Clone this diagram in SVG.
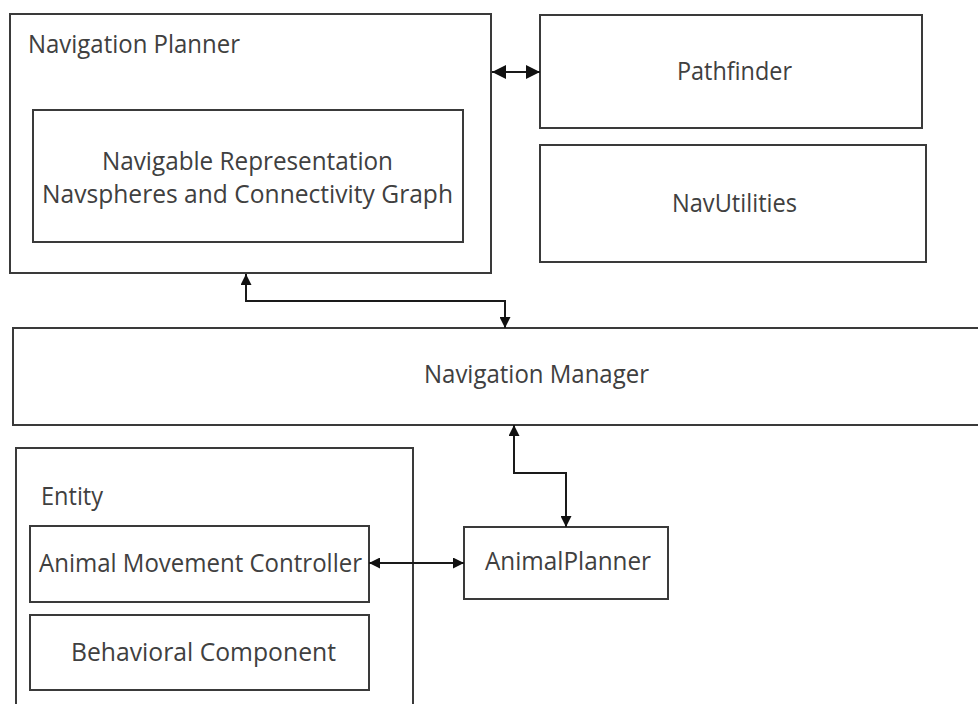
<svg xmlns="http://www.w3.org/2000/svg" width="978" height="704" viewBox="0 0 978 704">
  <style>
    .box { fill: #ffffff; stroke: #3a3a3a; stroke-width: 2; }
    .lbl { font-family: "Open Sans", "Noto Sans", "Liberation Sans", sans-serif; font-size: 25px; fill: #404040; }
    .link { fill: none; stroke: #1a1a1a; stroke-width: 2; marker-start: url(#head); marker-end: url(#head); }
    .link.bold { marker-start: url(#head-lg); marker-end: url(#head-lg); }
  </style>
  <defs>
    <marker id="head" viewBox="0 0 10 10" refX="10" refY="5" markerWidth="12" markerHeight="11" markerUnits="userSpaceOnUse" orient="auto-start-reverse">
      <path d="M0,0 L10,5 L0,10 z" fill="#111111"/>
    </marker>
    <marker id="head-lg" viewBox="0 0 10 10" refX="10" refY="5" markerWidth="14" markerHeight="14" markerUnits="userSpaceOnUse" orient="auto-start-reverse">
      <path d="M0,0 L10,5 L0,10 z" fill="#111111"/>
    </marker>
  </defs>
  <rect width="978" height="704" fill="#ffffff"/>

  <g id="navigation-planner">
    <rect class="box" x="10" y="14" width="481" height="259"/>
    <text class="lbl" x="28" y="53" textLength="212" lengthAdjust="spacingAndGlyphs">Navigation Planner</text>
  </g>

  <g id="navigable-representation">
    <rect class="box" x="33" y="110" width="430" height="132"/>
    <text class="lbl" x="102" y="170" textLength="291" lengthAdjust="spacingAndGlyphs">Navigable Representation</text>
    <text class="lbl" x="42" y="203" textLength="411" lengthAdjust="spacingAndGlyphs">Navspheres and Connectivity Graph</text>
  </g>

  <g id="pathfinder">
    <rect class="box" x="540" y="15" width="382" height="113"/>
    <text class="lbl" x="677" y="80" textLength="115" lengthAdjust="spacingAndGlyphs">Pathfinder</text>
  </g>

  <g id="navutilities">
    <rect class="box" x="540" y="145" width="386" height="117"/>
    <text class="lbl" x="672" y="212" textLength="125" lengthAdjust="spacingAndGlyphs">NavUtilities</text>
  </g>

  <g id="navigation-manager">
    <rect class="box" x="13" y="328" width="966" height="97"/>
    <text class="lbl" x="424" y="383" textLength="225" lengthAdjust="spacingAndGlyphs">Navigation Manager</text>
  </g>

  <g id="entity">
    <rect class="box" x="16" y="448" width="397" height="258"/>
    <text class="lbl" x="41" y="505" textLength="62" lengthAdjust="spacingAndGlyphs">Entity</text>
  </g>

  <g id="animal-movement-controller">
    <rect class="box" x="30" y="526" width="339" height="76"/>
    <text class="lbl" x="39" y="572" textLength="323" lengthAdjust="spacingAndGlyphs">Animal Movement Controller</text>
  </g>

  <g id="behavioral-component">
    <rect class="box" x="30" y="615" width="339" height="75"/>
    <text class="lbl" x="71" y="661" textLength="265" lengthAdjust="spacingAndGlyphs">Behavioral Component</text>
  </g>

  <g id="animal-planner">
    <rect class="box" x="464" y="527" width="204" height="72"/>
    <text class="lbl" x="485" y="570" textLength="166" lengthAdjust="spacingAndGlyphs">AnimalPlanner</text>
  </g>

  <g id="connectors">
    <path class="link bold" d="M492,72 H540"/>
    <path class="link" d="M246,274 V301 H505 V328"/>
    <path class="link" d="M514,425 V473 H566 V527"/>
    <path class="link" d="M369,563 H464"/>
  </g>
</svg>
